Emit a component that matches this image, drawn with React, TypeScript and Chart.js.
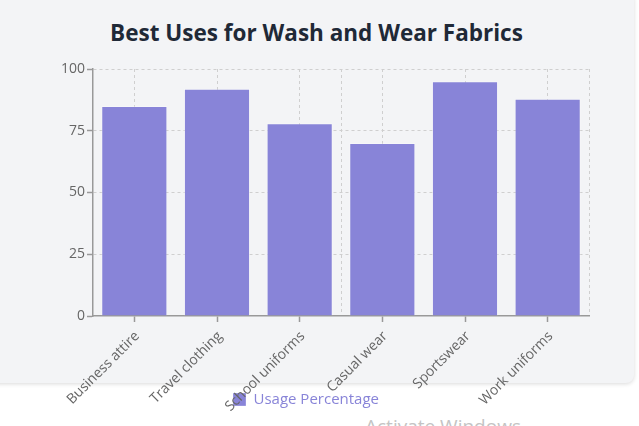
import { useEffect, useRef } from "react";
import { Chart, registerables, Plugin } from "chart.js";

Chart.register(...registerables);

/* ---------------- Data ---------------- */

const categories = [
  "Business attire",
  "Travel clothing",
  "School uniforms",
  "Casual wear",
  "Sportswear",
  "Work uniforms",
];

const usageValues = [85, 92, 78, 70, 95, 88];

const yTicks = [0, 25, 50, 75, 100];

const seriesLabel = "Usage Percentage";
const chartTitle = "Best Uses for Wash and Wear Fabrics";

/* ---------------- Component ---------------- */

const FONT = "'Open Sans', 'Noto Sans', sans-serif";
const AXIS = "#999";
const GRID = "#cfcfcf";

// x labels run over the legend like in the original, so let them draw past the axis box
const unclipLabels: Plugin = {
  id: "unclipLabels",
  afterLayout: (chart) => {
    const x = chart.scales.x;
    if (x) x.bottom = chart.height;
  },
};

const App = () => {
  const canvasRef = useRef<HTMLCanvasElement | null>(null);
  const chartRef = useRef<Chart | null>(null);

  useEffect(() => {
    if (!canvasRef.current) return;
    if (chartRef.current) chartRef.current.destroy();

    chartRef.current = new Chart(canvasRef.current, {
      type: "bar",
      data: {
        labels: categories,
        datasets: [
          {
            label: seriesLabel,
            data: usageValues,
            backgroundColor: "#8884d8",
            borderColor: "rgba(255,255,255,0.3)",
            borderWidth: 1,
            barPercentage: 0.8,
            categoryPercentage: 1,
          },
        ],
      },
      plugins: [unclipLabels],
      options: {
        animation: false,
        responsive: true,
        maintainAspectRatio: false,
        layout: {
          padding: { top: 69, left: 23, right: 50, bottom: 9 },
        },
        plugins: {
          title: { display: false },
          tooltip: { enabled: false },
          legend: {
            position: "bottom",
            labels: {
              color: "#8884d8",
              boxWidth: 13,
              boxHeight: 13,
              padding: 10,
              font: { family: FONT, size: 15 },
            },
          },
        },
        scales: {
          x: {
            grid: {
              offset: false,
              color: GRID,
              tickColor: AXIS,
              tickLength: 6,
              tickWidth: 1.5,
              tickBorderDash: [],
            },
            border: { display: true, color: AXIS, width: 1.5, dash: [3, 3] },
            ticks: {
              color: "#666",
              autoSkip: false,
              minRotation: 45,
              maxRotation: 45,
              padding: 6,
              labelOffset: 3,
              font: { family: FONT, size: 14 },
            },
            afterFit: (scale) => {
              scale.height = 66;
            },
          },
          xTop: {
            type: "linear",
            position: "top",
            min: 0,
            max: 1,
            ticks: { display: false, stepSize: 1 },
            grid: {
              drawTicks: false,
              color: (ctx) =>
                ctx.tick && ctx.tick.value === 0 ? "transparent" : GRID,
            },
            border: { display: false, dash: [3, 3] },
          },
          y: {
            min: yTicks[0],
            max: yTicks[yTicks.length - 1],
            afterBuildTicks: (scale) => {
              scale.ticks = yTicks.map((v) => ({ value: v }));
            },
            grid: {
              color: (ctx) =>
                ctx.tick && ctx.tick.value === 0 ? "transparent" : GRID,
              tickColor: AXIS,
              tickLength: 6,
              tickWidth: 1.5,
              tickBorderDash: [],
            },
            border: { display: true, color: AXIS, width: 1.5, dash: [3, 3] },
            ticks: {
              color: "#666",
              padding: 2,
              font: { family: FONT, size: 14 },
            },
            afterFit: (scale) => {
              scale.width = 70;
            },
          },
        },
      },
    });

    return () => {
      if (chartRef.current) {
        chartRef.current.destroy();
        chartRef.current = null;
      }
    };
  }, []);

  return (
    <div
      style={{
        position: "fixed",
        left: 0,
        top: 0,
        width: 639,
        height: 426,
        overflow: "hidden",
        background: "#fff",
      }}
    >
      <div
        style={{
          position: "absolute",
          left: -10,
          top: -8,
          width: 644,
          height: 391,
          borderRadius: 8,
          background: "#f3f4f6",
          boxShadow: "0 1px 4px rgba(0,0,0,0.15)",
        }}
      />
      <div
        style={{
          position: "absolute",
          left: 0,
          top: 17,
          width: 633,
          textAlign: "center",
          fontFamily: FONT,
          fontWeight: 700,
          fontSize: 22.5,
          lineHeight: "32px",
          color: "#1f2937",
        }}
      >
        {chartTitle}
      </div>
      <div
        style={{
          position: "absolute",
          left: 365,
          top: 413,
          fontFamily: FONT,
          fontSize: 19,
          color: "#c4c4c4",
          whiteSpace: "nowrap",
        }}
      >
        Activate Windows
      </div>
      <div style={{ position: "absolute", left: 0, top: 0, width: 639, height: 426 }}>
        <canvas ref={canvasRef}></canvas>
      </div>
    </div>
  );
};

export default App;
